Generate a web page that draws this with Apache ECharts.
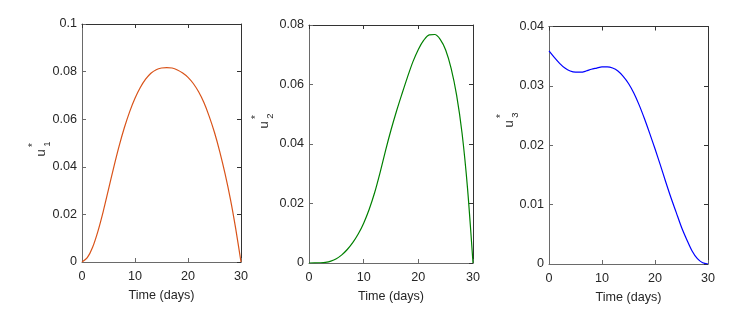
<!DOCTYPE html>
<html>
<head>
<meta charset="utf-8">
<script src="https://cdn.jsdelivr.net/npm/echarts@6/dist/echarts.min.js"></script>
<style>html,body{margin:0;padding:0;background:#fff}#c{width:747px;height:313px}</style>
</head>
<body>
<div id="c"></div>
<script>
const days = [0,1,2,3,4,5,6,7,8,9,10,11,12,13,14,15,16,17,18,19,20,21,22,23,24,25,26,27,28,29,30];
const u1 = [0,0.0018,0.0062,0.0129,0.0212,0.0305,0.0399,0.0487,0.0565,0.0632,0.0688,0.0733,0.0768,0.0793,0.0808,0.0815,0.0817,0.0815,0.0807,0.0794,0.0776,0.0750,0.0715,0.0670,0.0612,0.0544,0.0463,0.0370,0.0264,0.0140,0];
const u2 = [0,0.00002,0.00008,0.00023,0.00063,0.00143,0.00273,0.00453,0.00683,0.00973,0.0134,0.0180,0.0236,0.0304,0.0378,0.0447,0.0510,0.0568,0.0624,0.0676,0.0718,0.0749,0.0767,0.0768,0.0752,0.0716,0.0654,0.0564,0.0436,0.0251,0];
const u3 = [0.0359,0.0348,0.0338,0.0330,0.0325,0.0323,0.0323,0.0325,0.0328,0.0330,0.0332,0.0332,0.0330,0.0325,0.0316,0.0304,0.0288,0.0268,0.0245,0.0220,0.0194,0.0167,0.0139,0.0112,0.0087,0.0062,0.0041,0.0022,0.0009,0.0002,0];
const xTicks = [0, 30, 10];           // min, max, interval
const yRanges = [[0, 0.1, 0.02], [0, 0.08, 0.02], [0, 0.04, 0.01]];
const subs = ['1', '2', '3'];
const colors = ['#D95319', '#008000', '#0000FF'];
const xName = 'Time (days)';

const grids = [
  {left: 82, top: 24, width: 159, height: 238},
  {left: 309, top: 25, width: 164, height: 238},
  {left: 549, top: 26.5, width: 159, height: 237.5}
];
const labelPos = [[41, 153], [264, 125], [509, 124]];
const FONT = '"Liberation Sans", Arial, Helvetica, sans-serif';
const TXT = '#262626';
const FS = 12.6;

const xAxis = [], yAxis = [], series = [], graphic = [];
const seriesData = [u1, u2, u3];
grids.forEach((g, i) => {
  xAxis.push({
    type: 'value', gridIndex: i, min: xTicks[0], max: xTicks[1], interval: xTicks[2],
    position: 'bottom',
    name: xName, nameLocation: 'middle', nameGap: 27,
    nameTextStyle: {color: TXT, fontSize: FS, fontFamily: FONT},
    axisLine: {show: true, onZero: false, lineStyle: {color: '#6a6a6a', width: 1}},
    axisTick: {show: true, inside: true, length: 4, lineStyle: {color: '#6a6a6a'}},
    axisLabel: {color: TXT, fontSize: FS, fontFamily: FONT, margin: 8},
    splitLine: {show: false}
  });
  xAxis.push({
    type: 'value', gridIndex: i, min: xTicks[0], max: xTicks[1], interval: xTicks[2],
    position: 'top',
    axisLine: {show: true, onZero: false, lineStyle: {color: '#333', width: 1}},
    axisTick: {show: true, inside: true, length: 4, lineStyle: {color: '#333'}},
    axisLabel: {show: false}, splitLine: {show: false}
  });
  const r = yRanges[i];
  yAxis.push({
    type: 'value', gridIndex: i, min: r[0], max: r[1], interval: r[2],
    position: 'left',
    axisLine: {show: true, onZero: false, lineStyle: {color: '#6a6a6a', width: 1}},
    axisTick: {show: true, inside: true, length: 4, lineStyle: {color: '#6a6a6a'}},
    axisLabel: {color: TXT, fontSize: FS, fontFamily: FONT, margin: 5,
      formatter: v => String(parseFloat(v.toFixed(4)))},
    splitLine: {show: false}
  });
  yAxis.push({
    type: 'value', gridIndex: i, min: r[0], max: r[1], interval: r[2],
    position: 'right',
    axisLine: {show: true, onZero: false, lineStyle: {color: '#333', width: 1}},
    axisTick: {show: true, inside: true, length: 4, lineStyle: {color: '#333'}},
    axisLabel: {show: false}, splitLine: {show: false}
  });
  series.push({
    type: 'line', xAxisIndex: 2 * i, yAxisIndex: 2 * i,
    data: days.map((d, k) => [d, seriesData[i][k]]),
    showSymbol: false, smooth: 0.3,
    lineStyle: {color: colors[i], width: 1.2}, itemStyle: {color: colors[i]},
    silent: true, animation: false
  });
  const [X, Y] = labelPos[i];
  graphic.push({type: 'text', x: X, y: Y, rotation: Math.PI / 2,
    style: {text: 'u', fontSize: 13, fontFamily: FONT, fill: TXT, align: 'center', verticalAlign: 'middle'}});
  graphic.push({type: 'text', x: X + 6, y: Y - 9, rotation: Math.PI / 2,
    style: {text: subs[i], fontSize: 9.5, fontFamily: FONT, fill: TXT, align: 'center', verticalAlign: 'middle'}});
  graphic.push({type: 'text', x: X - 8, y: Y - 8, rotation: Math.PI / 2,
    style: {text: '*', fontSize: 10, fontFamily: FONT, fill: TXT, align: 'center', verticalAlign: 'middle'}});
});

const chart = echarts.init(document.getElementById('c'), null, {renderer: 'canvas'});
chart.setOption({
  backgroundColor: '#fff',
  animation: false,
  grid: grids,
  xAxis, yAxis, series, graphic
});
</script>
</body>
</html>
